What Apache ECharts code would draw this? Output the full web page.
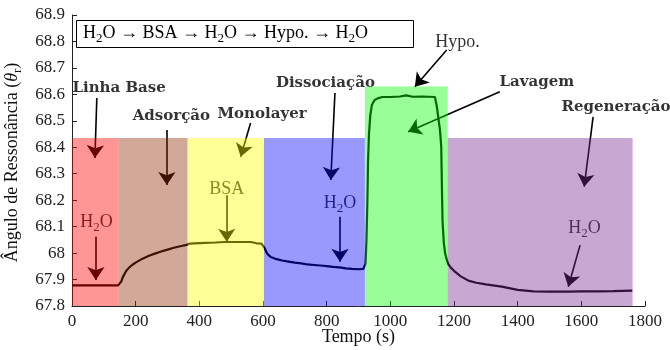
<!DOCTYPE html>
<html><head><meta charset="utf-8">
<script src="https://cdn.jsdelivr.net/npm/echarts@6/dist/echarts.min.js"></script>
<style>html,body{margin:0;padding:0;background:#fff}#c{width:670px;height:350px}</style>
</head><body><div id="c"></div>
<script>
// ---- data ----
const time = [0,145,150,155,160,170,180,190,200,220,240,260,280,300,320,340,360,365,
  370,400,450,480,520,560,570,580,595,600,
  605,610,615,625,640,660,680,700,720,740,760,780,800,820,840,860,880,900,915,
  918,922,925,928,930,933,937,942,950,960,975,1000,1030,1050,1070,1100,1140,1146,1152,1156,1160,1162,1164,1168,1172,1177,1182,
  1185,1190,1200,1220,1245,1270,1300,1350,1400,1450,1500,1560,1600,1650,1700,1760];
const angle = [67.878,67.878,67.880,67.893,67.910,67.932,67.946,67.956,67.964,67.978,67.989,67.998,68.006,68.013,68.020,68.026,68.031,68.033,
  68.036,68.038,68.040,68.042,68.042,68.042,68.040,68.037,68.036,68.032,
  68.020,68.005,67.995,67.985,67.978,67.972,67.968,67.964,67.961,67.957,67.955,67.953,67.951,67.948,67.946,67.942,67.940,67.939,67.940,
  67.942,67.960,68.050,68.200,68.350,68.450,68.520,68.560,68.578,68.585,68.590,68.590,68.592,68.596,68.591,68.592,68.590,68.555,68.500,68.465,68.400,68.250,68.120,68.040,68.000,67.975,67.958,
  67.952,67.945,67.933,67.913,67.896,67.888,67.882,67.873,67.861,67.855,67.854,67.854,67.855,67.855,67.856,67.858];

const regionStart = [0,146,363,603,920,1180];
const regionEnd   = [146,363,603,920,1180,1761];
const regionTop   = [68.435,68.435,68.435,68.435,68.63,68.435];
const regionColors = ['rgba(255,0,0,0.41)','rgba(145,43,4,0.41)','rgba(255,255,6,0.41)',
  'rgba(6,6,255,0.41)','rgba(6,255,6,0.41)','rgba(121,43,145,0.41)'];

const labelText = ['Linha Base','Adsorção','Monolayer','Dissociação','Hypo.','Lavagem','Regeneração',
  'H{s|2}O','BSA','H{s|2}O','H{s|2}O'];
const labelX = [148,312,597,796,1211,1460,1709,77,486,842,1610];
const labelY = [68.624,68.518,68.526,68.644,68.797,68.646,68.553,68.118,68.242,68.189,68.094];
const labelBold = [1,1,1,1,0,1,1,0,0,0,0];

const arrowFrom = [[78,68.586],[298,68.465],[561,68.492],[826,68.605],[1177,68.768],[1344,68.610],[1637,68.515],[75,68.062],[486,68.219],[842,68.137],[1596,68.030]];
const arrowTo   = [[72,68.359],[298,68.257],[530,68.364],[813,68.276],[1077,68.629],[1056,68.459],[1609,68.251],[75,67.898],[486,68.043],[842,67.967],[1559,67.873]];

const xTicks = {min:0,max:1800,interval:200};
const yTicks = {min:67.8,max:68.9,interval:0.1};

// ---- chart ----
const FF = 'Liberation Serif';
const FB = 'DejaVu Serif';
const subRich = {s:{fontSize:13,fontFamily:FF,padding:[11,0,0,0]}};
const chart = echarts.init(document.getElementById('c'));
chart.setOption({
  animation:false,
  backgroundColor:'#fff',
  title:{
    text:'H{s|2}O → BSA → H{s|2}O → Hypo. → H{s|2}O',
    left:76, top:17, borderColor:'#000', borderWidth:1, padding:[4,46,3,7],
    textStyle:{fontFamily:FF,fontSize:18,fontWeight:'normal',color:'#000',
      rich:{s:{fontSize:13,fontFamily:FF,color:'#000',padding:[11,0,0,0]}}}
  },
  grid:{left:72,right:25,top:15,bottom:44,containLabel:false,outerBoundsMode:'none'},
  xAxis:{type:'value',min:xTicks.min,max:xTicks.max,interval:xTicks.interval,
    name:'Tempo (s)',nameLocation:'middle',nameGap:22,nameMoveOverlap:false,
    nameTextStyle:{fontFamily:FF,fontSize:18,color:'#111',verticalAlign:'top'},
    axisLine:{lineStyle:{color:'#222',width:1}},
    axisTick:{inside:true,length:5,lineStyle:{color:'#222'}},
    axisLabel:{fontFamily:FF,fontSize:17,color:'#222',margin:7,formatter:v=>String(v)},
    splitLine:{show:false}},
  yAxis:{type:'value',min:yTicks.min,max:yTicks.max,interval:yTicks.interval,
    name:'Ângulo de Ressonância ({i|θ}{s|r})',nameLocation:'middle',nameGap:48,nameMoveOverlap:false,
    nameTextStyle:{fontFamily:FF,fontSize:18,color:'#111',padding:[0,4,0,0],
      rich:{i:{fontStyle:'italic',fontFamily:FF,fontSize:18,color:'#111'},
            s:{fontSize:13,fontFamily:FF,color:'#111',padding:[11,0,0,0]}}},
    axisLine:{show:true,lineStyle:{color:'#222',width:1}},
    axisTick:{show:true,inside:true,length:5,lineStyle:{color:'#222'}},
    axisLabel:{fontFamily:FF,fontSize:17,color:'#222',margin:7},
    splitLine:{show:false}},
  series:[
    {type:'line',z:2,data:time.map((t,i)=>[t,angle[i]]),showSymbol:false,symbol:'none',
      lineStyle:{color:'#000',width:2.2},silent:true},
    {type:'lines',coordinateSystem:'cartesian2d',z:2,silent:true,
      symbol:['none','arrow'],symbolSize:[0,13],
      lineStyle:{color:'#000',width:1.6,opacity:1},
      data:arrowFrom.map((f,i)=>({coords:[f,arrowTo[i]]}))},
    {type:'scatter',z:2,symbolSize:0,silent:true,itemStyle:{color:'transparent'},
      data:labelX.map((x,i)=>({value:[x,labelY[i]],
        label:{show:true,position:'inside',formatter:labelText[i],
          fontFamily:labelBold[i]?FB:FF,fontSize:labelBold[i]?15:18,fontWeight:labelBold[i]?'bold':'normal',color:'#000',
          rich:subRich}}))},
    {type:'custom',z:3,silent:true,
      data:regionStart.map((s,i)=>[s,regionEnd[i],regionTop[i]]),
      encode:{x:[0,1],y:2},
      renderItem:function(params,api){
        const p0 = api.coord([api.value(0),api.value(2)]);
        const p1 = api.coord([api.value(1),yTicks.min]);
        return {type:'rect',shape:{x:p0[0],y:p0[1],width:p1[0]-p0[0],height:p1[1]-p0[1]},
          style:{fill:regionColors[params.dataIndex]}};
      }}
  ]
});
</script></body></html>
